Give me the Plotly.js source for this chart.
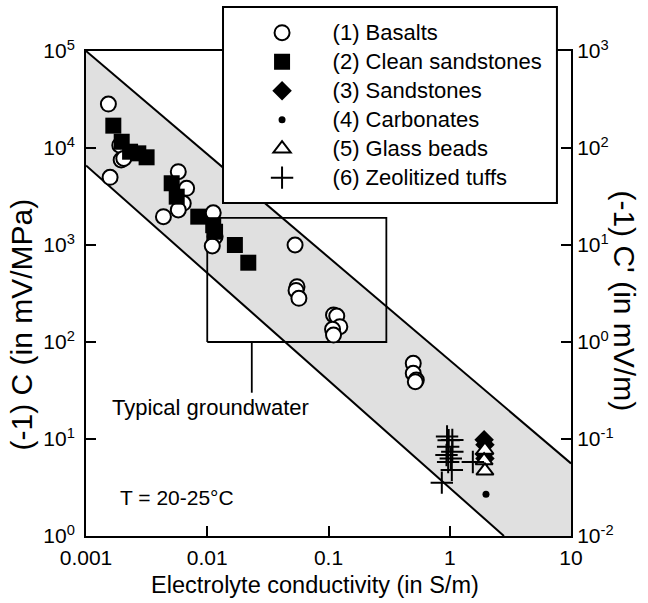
<!DOCTYPE html>
<html>
<head>
<meta charset="utf-8">
<script src="https://cdn.plot.ly/plotly-3.0.1.min.js"></script>
<style>html,body{margin:0;padding:0;background:#fff;}#chart{width:648px;height:603px;}</style>
</head>
<body>
<div id="chart"></div>
<script>
// ---- Data ----
const basaltX = [0.00153,0.00158,0.0019,0.00195,0.00205,0.00577,0.00676,0.00634,0.00577,0.00435,0.0112,0.0116,0.011,0.053,0.055,0.054,0.057,0.11,0.117,0.124,0.108,0.11,0.50,0.50,0.53,0.52];
const basaltY = [28400,4990,10700,7520,7800,5700,3840,2690,2300,1960,2150,1220,977,1000,372,340,282,190,185,144,135,118,60.3,47.6,40.5,38.9];
const cleanX = [0.00168,0.00197,0.00231,0.0027,0.00316,0.00509,0.0056,0.00843,0.0112,0.0116,0.0169,0.0218];
const cleanY = [17000,11600,9160,8810,8020,4330,3150,1960,1600,1370,1000,657];
const sandX = [1.92,1.95,1.92,1.95];
const sandY = [9.8,8.7,7.0,6.3];
const carbX = [1.99];
const carbY = [2.7];
const glassX = [1.95,1.92,1.95];
const glassY = [7.7,6.0,4.7];
const tuffX = [0.86,1.04,0.98,1.05,0.95,0.97,1.05,0.94,1.02,0.97,1.55];
const tuffY = [3.55,4.8,9.7,9.75,10.6,8.3,7.4,6.85,6.3,5.8,5.8];

// Band limits (upper and lower lines)
const upperX = [0.001, 10];
const upperY = [100000, 5.6];
const lowerX = [0.001, 2.8];
const lowerY = [6600, 1];
// Typical groundwater box
const gwX = [0.01, 0.3];
const gwY = [100, 1900];
const gwLeaderX = [0.0233, 0.0233];
const gwLeaderY = [100, 30];

const xTickVals = [0.001, 0.01, 0.1, 1, 10];
const xTickText = ["0.001", "0.01", "0.1", "1", "10"];
const yTickVals = [1, 10, 100, 1000, 10000, 100000];
const yTickText = ["10<sup>0</sup>","10<sup>1</sup>","10<sup>2</sup>","10<sup>3</sup>","10<sup>4</sup>","10<sup>5</sup>"];
const y2TickVals = [0.01, 0.1, 1, 10, 100, 1000];
const y2TickText = ["10<sup>-2</sup>","10<sup>-1</sup>","10<sup>0</sup>","10<sup>1</sup>","10<sup>2</sup>","10<sup>3</sup>"];

const seriesNames = ["(1) Basalts","(2) Clean sandstones","(3) Sandstones","(4) Carbonates","(5) Glass beads","(6) Zeolitized tuffs"];

const FONT = "Liberation Sans, Arial, Helvetica, sans-serif";
const pad = "\u00a0\u00a0\u00a0\u00a0\u00a0";
function legendName(n) { return '<span style="font-size:22px">' + pad + n + '</span>'; }

const traces = [];
// band fill
traces.push({
  x: [upperX[0], upperX[1], upperX[1], lowerX[1], lowerX[0]],
  y: [upperY[0], upperY[1], lowerY[1], lowerY[1], lowerY[0]],
  mode: 'lines', fill: 'toself', fillcolor: '#e0e0e0',
  line: {width: 0, color: 'rgba(0,0,0,0)'}, showlegend: false, hoverinfo: 'skip'
});
traces.push({x: upperX, y: upperY, mode: 'lines', line: {color: '#000', width: 2}, showlegend: false, hoverinfo: 'skip'});
traces.push({x: lowerX, y: lowerY, mode: 'lines', line: {color: '#000', width: 2}, showlegend: false, hoverinfo: 'skip'});
// groundwater box
traces.push({
  x: [gwX[0], gwX[1], gwX[1], gwX[0], gwX[0]],
  y: [gwY[0], gwY[0], gwY[1], gwY[1], gwY[0]],
  mode: 'lines', line: {color: '#000', width: 1.8}, showlegend: false, hoverinfo: 'skip'
});
traces.push({x: gwLeaderX, y: gwLeaderY, mode: 'lines', line: {color: '#000', width: 1.8}, showlegend: false, hoverinfo: 'skip', cliponaxis: false});

function mk(x, y, name, g, marker) {
  return {x: x, y: y, name: legendName(name), legendgroup: g, mode: 'markers', marker: marker, cliponaxis: false};
}
traces.push(mk(basaltX, basaltY, seriesNames[0], 'g1', {symbol: 'circle', size: 15, color: '#fff', line: {color: '#000', width: 2}}));
traces.push(mk(cleanX, cleanY, seriesNames[1], 'g2', {symbol: 'square', size: 16, color: '#000', line: {color: '#000', width: 0}}));
traces.push(mk(sandX, sandY, seriesNames[2], 'g3', {symbol: 'diamond', size: 15, color: '#000', line: {color: '#000', width: 0}}));
traces.push(mk(carbX, carbY, seriesNames[3], 'g4', {symbol: 'circle', size: 7, color: '#000', line: {width: 0}}));
traces.push(mk(glassX, glassY, seriesNames[4], 'g5', {symbol: 'triangle-up', size: 15, color: '#fff', line: {color: '#000', width: 2}}));
traces.push(mk(tuffX, tuffY, seriesNames[5], 'g6', {symbol: 'cross-thin', size: 16, color: '#000', line: {color: '#000', width: 2}}));

const layout = {
  width: 648, height: 603,
  margin: {l: 86, r: 77, t: 51, b: 67},
  paper_bgcolor: '#fff', plot_bgcolor: '#fff',
  font: {family: FONT, size: 21, color: '#000'},
  showlegend: true,
  legend: {
    x: 0.363, y: 1.078, xanchor: 'left', yanchor: 'top',
    bgcolor: 'rgba(0,0,0,0)', borderwidth: 0,
    font: {family: FONT, size: 20, color: '#000'},
    traceorder: 'grouped', tracegroupgap: 0, itemsizing: 'trace'
  },
  xaxis: {
    type: 'log', range: [-3, 1], tickvals: xTickVals, ticktext: xTickText,
    ticks: 'inside', ticklen: 10, tickwidth: 2, tickcolor: '#000',
    showline: true, linecolor: '#000', linewidth: 2, mirror: true,
    showgrid: false, zeroline: false, tickfont: {size: 21}, ticklabelstandoff: 2
  },
  yaxis: {
    type: 'log', range: [0, 5], tickvals: yTickVals, ticktext: yTickText,
    ticks: 'inside', ticklen: 10, tickwidth: 2, tickcolor: '#000',
    showline: true, linecolor: '#000', linewidth: 2,
    showgrid: false, zeroline: false, tickfont: {size: 21}, ticklabelstandoff: 5
  },
  yaxis2: {
    type: 'log', range: [-2, 3], overlaying: 'y', side: 'right',
    tickvals: y2TickVals, ticktext: y2TickText,
    ticks: 'inside', ticklen: 10, tickwidth: 2, tickcolor: '#000',
    showline: true, linecolor: '#000', linewidth: 2,
    showgrid: false, zeroline: false, tickfont: {size: 21}
  },
  shapes: [{
    type: 'rect', xref: 'paper', yref: 'paper',
    x0: 0.2825, x1: 0.971, y0: 0.6866, y1: 1.0907,
    fillcolor: '#fff', line: {color: '#000', width: 2}, layer: 'above'
  }],
  annotations: [
    {text: 'Electrolyte conductivity (in S/m)', xref: 'paper', yref: 'paper', x: 0.472, y: -0.1, showarrow: false, font: {size: 23.5}, xanchor: 'center', yanchor: 'middle'},
    {text: '(-1) C (in mV/MPa)', xref: 'paper', yref: 'paper', x: -0.132, y: 0.436, showarrow: false, font: {size: 30}, textangle: -90, xanchor: 'center', yanchor: 'middle'},
    {text: "(-1) C' (in mV/m)", xref: 'paper', yref: 'paper', x: 1.111, y: 0.484, showarrow: false, font: {size: 30}, textangle: 90, xanchor: 'center', yanchor: 'middle'},
    {text: 'Typical groundwater', xref: 'paper', yref: 'paper', x: 0.0495, y: 0.264, showarrow: false, font: {size: 22}, xanchor: 'left', yanchor: 'middle'},
    {text: 'T = 20-25°C', xref: 'paper', yref: 'paper', x: 0.066, y: 0.080, showarrow: false, font: {size: 21}, xanchor: 'left', yanchor: 'middle'}
  ]
};

// invisible helper so the right-hand axis is drawn
traces.push({x: [0.001], y: [0.01], yaxis: 'y2', mode: 'markers', marker: {opacity: 0}, showlegend: false, hoverinfo: 'skip'});

Plotly.newPlot('chart', traces, layout, {displayModeBar: false, staticPlot: true});
</script>
</body>
</html>
